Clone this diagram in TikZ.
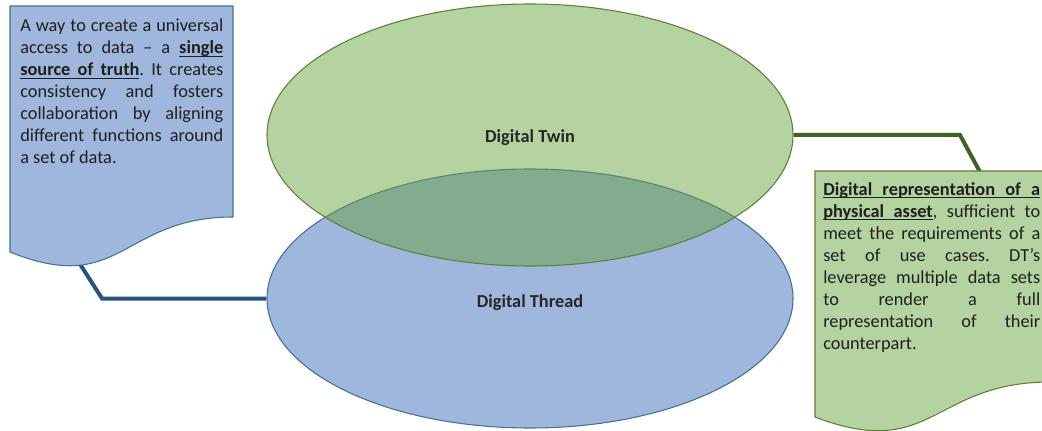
\documentclass[tikz,border=0pt]{standalone}
\usepackage{fontspec}
\setmainfont{Carlito}
\usetikzlibrary{shapes.geometric}

\definecolor{threadfill}{RGB}{159,182,221}
\definecolor{threadline}{RGB}{65,113,156}
\definecolor{threadlink}{RGB}{37,84,131}
\definecolor{twinfill}{RGB}{101,163,57}
\definecolor{twinpale}{RGB}{181,211,160}
\definecolor{twinline}{RGB}{94,128,53}
\definecolor{twinlink}{RGB}{63,99,34}

% underlined word, and an underlined space that still stretches
\newcommand\ulw[1]{\setbox0\hbox{#1}\leavevmode\rlap{\vrule height -1.7pt depth 2.5pt width \wd0}\box0}
\newcommand\uls{\leaders\hrule height -1.7pt depth 2.5pt\hskip\fontdimen2\font plus\fontdimen3\font minus\fontdimen4\font\relax}

\tikzset{
  bodytext/.style={font=\fontsize{13.75pt}{16.5pt}\selectfont\frenchspacing, text=black!88},
  boxtext/.style={bodytext, anchor=north west, inner sep=0pt, align=justify},
  blob/.style={ellipse, inner sep=0pt, minimum width=394.5pt, line width=0.8pt},
  blobtext/.style={font=\fontsize{13.75pt}{16.5pt}\selectfont\bfseries, text=black!85},
  link/.style={line width=3pt, line join=miter}
}

\begin{document}
\begin{tikzpicture}[x=0.75pt,y=-0.75pt]
    \useasboundingbox (0,0) rectangle (1042,431);

    % connectors go in first, the shapes cover their ends
    \coordinate (leftpin) at (80,264);
    \coordinate (leftbend) at (102,298.5);
    \coordinate (rightbend) at (960,135);
    \coordinate (rightpin) at (980,172);
    \node[blob, minimum height=194.25pt] (thread) at (530,298.5) {};
    \node[blob, minimum height=196.5pt] (twin) at (530,135) {};
    \draw[link, threadlink] (leftpin) -- (leftbend) -- (thread.west);
    \draw[link, twinlink] (twin.east) -- (rightbend) -- (rightpin);

    % the two ellipses
    \node[blob, draw=threadline, fill=threadfill, minimum height=194.25pt] at (thread) {};
    \node[blob, draw=twinline, fill=twinfill, fill opacity=0.48, draw opacity=1,
      minimum height=196.5pt] at (twin) {};
    \node[blobtext] (twinlabel) at (530,138) {Digital Twin};
    \node[blobtext] (threadlabel) at (530,303) {Digital Thread};

    % note shapes
    \draw[threadline, fill=threadfill, line width=0.8pt] (10,6) -- (233,6) -- (233,217)
      .. controls (121.5,217) and (121.5,297) .. (10,252) -- cycle;
    \draw[twinline, fill=twinpale, line width=0.8pt] (815,171) -- (1050,171) -- (1050,382)
      .. controls (932.5,382) and (932.5,462) .. (815,417) -- cycle;

    \node[boxtext, text width=152.25pt] (threadnote) at (20,19) {A way to create a universal\linebreak
      access to data -- a \textbf{\ulw{single}}\linebreak
      \textbf{\ulw{source}\uls\ulw{of}\uls\ulw{truth}}. It creates\linebreak
      consistency and fosters\linebreak
      collaboration by aligning\linebreak
      different functions around\linebreak
      a set of data.};
    \node[boxtext, text width=162.75pt] (twinnote) at (823,182) {\textbf{\ulw{Digital}\uls\ulw{representation}\uls\ulw{of}\uls\ulw{a}}\linebreak
      \textbf{\ulw{physical}\uls\ulw{asset}}, sufficient to\linebreak
      meet the requirements of a\linebreak
      set of use cases. DT’s\linebreak
      leverage multiple data sets\linebreak
      to render a full\linebreak
      representation of their\linebreak
      counterpart.};
\end{tikzpicture}
\end{document}
